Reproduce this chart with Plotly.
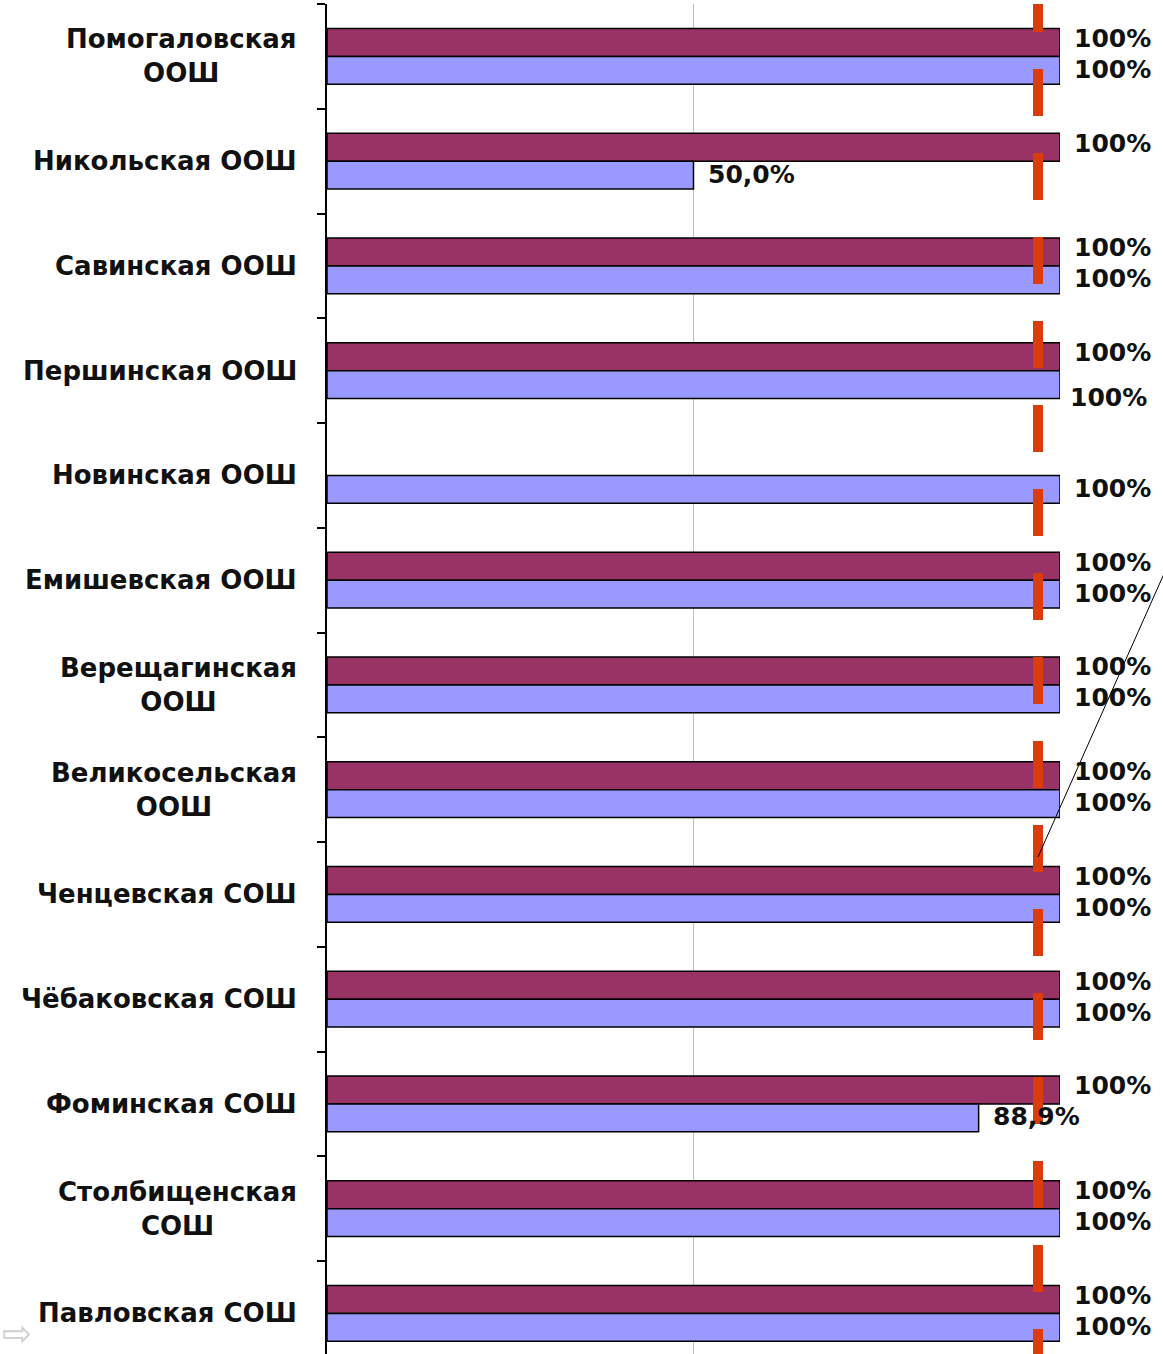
import plotly.graph_objects as go

# ---------------- data ----------------
categories = [
    "Помогаловская ООШ", "Никольская ООШ", "Савинская ООШ", "Першинская ООШ",
    "Новинская ООШ", "Емишевская ООШ", "Верещагинская ООШ", "Великосельская ООШ",
    "Ченцевская СОШ", "Чёбаковская СОШ", "Фоминская СОШ", "Столбищенская СОШ",
    "Павловская СОШ",
]
category_labels = [
    "Помогаловская<br>ООШ", "Никольская ООШ", "Савинская ООШ", "Першинская ООШ",
    "Новинская ООШ", "Емишевская ООШ", "Верещагинская<br>ООШ", "Великосельская<br>ООШ",
    "Ченцевская СОШ", "Чёбаковская СОШ", "Фоминская СОШ", "Столбищенская<br>СОШ",
    "Павловская СОШ",
]
series_1 = [100, 100, 100, 100, None, 100, 100, 100, 100, 100, 100, 100, 100]
series_2 = [100, 50.0, 100, 100, 100, 100, 100, 100, 100, 100, 88.9, 100, 100]
target_value = 97
x_max = 100

# ---------------- styles ----------------
COL_1 = "#993366"
COL_2 = "#9999FF"
COL_TARGET = "#DA3C0C"
FONT = "DejaVu Sans"
W, H = 1163, 1354
L, R, T, B = 327, 103, 4, 0
plot_h = H - T - B
cat_px = 104.75
n_vis = plot_h / cat_px


def fmt(v):
    if v is None:
        return None
    if abs(v - 100) < 1e-9:
        return "100%"
    return f"{v:.1f}".replace(".", ",") + "%"


fig = go.Figure()
fig.add_trace(go.Bar(
    y=categories, x=series_1, orientation="h", name="Ряд 1",
    marker=dict(color=COL_1, line=dict(color="#000000", width=1.5)),
    showlegend=False,
))
fig.add_trace(go.Bar(
    y=categories, x=series_2, orientation="h", name="Ряд 2",
    marker=dict(color=COL_2, line=dict(color="#000000", width=1.5)),
    showlegend=False,
))

annotations = []
# category labels
for cat, lab in zip(categories, category_labels):
    annotations.append(dict(
        x=0, xref="paper", y=cat, yref="y", text=lab, showarrow=False,
        xanchor="right", yanchor="middle", align="center", xshift=-28,
        font=dict(family=FONT, size=26, color="#111111", weight="bold"),
    ))

# value labels
label_adjust = {("s2", "Першинская ООШ"): (-4, -14)}
for key, vals, ysh in (("s1", series_1, 18), ("s2", series_2, -13)):
    for cat, v in zip(categories, vals):
        t = fmt(v)
        if t is None:
            continue
        dx, dy = label_adjust.get((key, cat), (0, 0))
        annotations.append(dict(
            x=v, xref="x", y=cat, yref="y", text=t, showarrow=False,
            xanchor="left", yanchor="middle", xshift=12 + dx, yshift=ysh + dy,
            font=dict(family=FONT, size=25, color="#111111", weight="bold"),
        ))

# navigation arrow glyph (decoration)
annotations.append(dict(
    x=0, xref="paper", y=0, yref="paper", text="⇨", showarrow=False,
    xanchor="left", yanchor="bottom", xshift=-L, yshift=-2,
    font=dict(family=FONT, size=36, color="#d0d0d0"),
))

shapes = [
    # target dashed line
    dict(type="line", xref="x", yref="y", x0=target_value, x1=target_value,
         y0=-0.5 - 19 / cat_px, y1=len(categories) - 0.5,
         line=dict(color=COL_TARGET, width=10, dash="47px,37px"), layer="above"),
    # thin leader line
    dict(type="line", xref="paper", yref="paper",
         x0=target_value / x_max, y0=1 - (857 - T) / plot_h,
         x1=(1175 - L) / (W - L - R), y1=1 - (549 - T) / plot_h,
         line=dict(color="#000000", width=1), layer="above"),
]

fig.update_layout(
    width=W, height=H,
    margin=dict(l=L, r=R, t=T, b=B, pad=0),
    paper_bgcolor="white", plot_bgcolor="white",
    barmode="group", bargap=0.47, bargroupgap=0,
    annotations=annotations, shapes=shapes,
)
fig.update_xaxes(
    range=[0, x_max], dtick=50, showgrid=True, gridcolor="#c0c0c0", gridwidth=1,
    zeroline=False, showticklabels=False, showline=False, ticks="",
)
fig.update_yaxes(
    type="category", categoryorder="array", categoryarray=categories,
    range=[-0.5 + n_vis, -0.5], showticklabels=False,
    showline=True, linecolor="#000000", linewidth=2,
    ticks="outside", tickson="boundaries", ticklen=8, tickwidth=2, tickcolor="#000000",
    showgrid=False, zeroline=False,
)

fig.write_html(
    "out.html",
    config={"displayModeBar": False},
    post_script="document.body.style.margin='0px';document.body.style.overflow='hidden';",
)
